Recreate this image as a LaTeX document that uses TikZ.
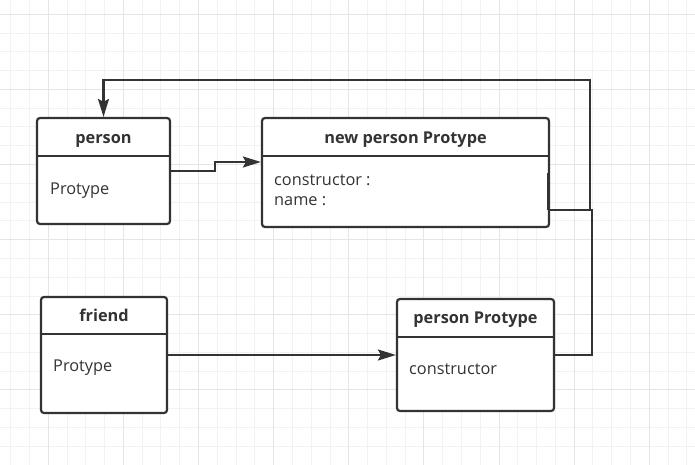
\documentclass[tikz,border=0pt]{standalone}
\usepackage{fontspec}
\setmainfont{Open Sans}
\usetikzlibrary{arrows.meta}
\definecolor{ln}{HTML}{333333}
\definecolor{gmin}{HTML}{F2F2F2}
\definecolor{gmaj}{HTML}{E5E5E5}
\tikzset{
  box/.style={draw=ln, line width=2.2pt, rounded corners=3pt, fill=white, inner sep=0pt},
  divider/.style={draw=ln, line width=2.2pt},
  hdr/.style={text=ln, font=\fontsize{16.3}{19}\selectfont\bfseries, inner sep=0pt, anchor=base},
  txt/.style={text=ln, font=\fontsize{16.3}{20}\selectfont, inner sep=0pt, anchor=base west},
  conn/.style={draw=ln, line width=2.2pt},
  arr/.style={conn, -{Stealth[length=18pt,width=11pt,inset=3pt]}},
}
\begin{document}
\begin{tikzpicture}[x=1pt,y=-1pt]
\useasboundingbox (0,0) rectangle (695,465);
\fill[white] (0,0) rectangle (695,465);
% grid
\foreach \k in {-2,...,34} {
  \pgfmathsetmacro\xx{48.3+18.78*\k}
  \draw[gmin, line width=1pt] (\xx,0) -- (\xx,465);
}
\foreach \k in {0,...,24} {
  \pgfmathsetmacro\yy{14.3+18.78*\k}
  \draw[gmin, line width=1pt] (0,\yy) -- (695,\yy);
}
\foreach \k in {0,4,...,32} {
  \pgfmathsetmacro\xx{48.3+18.78*\k}
  \draw[gmaj, line width=1pt] (\xx,0) -- (\xx,465);
}
\foreach \k in {0,4,...,24} {
  \pgfmathsetmacro\yy{14.3+18.78*\k}
  \draw[gmaj, line width=1pt] (0,\yy) -- (695,\yy);
}
% boxes
\node[box, minimum width=133pt, minimum height=106pt] (person) at (103.5,171) {};
\node[box, minimum width=287pt, minimum height=109pt] (npp) at (405.5,172.5) {};
\node[box, minimum width=126pt, minimum height=116pt] (friend) at (104,355) {};
\node[box, minimum width=157pt, minimum height=112pt] (ppt) at (475.5,355) {};
% dividers
\draw[divider] (person.west |- 0,156) -- (person.east |- 0,156);
\draw[divider] (npp.west |- 0,156) -- (npp.east |- 0,156);
\draw[divider] (friend.west |- 0,334) -- (friend.east |- 0,334);
\draw[divider] (ppt.west |- 0,337) -- (ppt.east |- 0,337);
% texts
\node[hdr] (personH) at (103.5,144) {person};
\node[txt] (personP) at (50,194.3) {Protype};
\node[hdr] (nppH) at (405.5,143.3) {new person Protype};
\node[txt] (nppC) at (274,185) {constructor :};
\node[txt] (nppN) at (274,205) {name :};
\node[hdr] (friendH) at (104,321) {friend};
\node[txt] (friendP) at (53,371.7) {Protype};
\node[hdr] (pptH) at (475.5,323.3) {person Protype};
\node[txt] (pptC) at (409,374.3) {constructor};
% connectors
\draw[arr] (person.east) -- ++(44,0) |- ([yshift=10.5pt]npp.west);
\draw[arr] (friend.east) -- (ppt.west);
\coordinate (j) at (590,210);
\draw[conn] (ppt.east) -| (592,210) -- ([yshift=-37.5pt]npp.east);
\draw[conn, line width=2.8pt] ([xshift=-1.5pt,yshift=-37.5pt]npp.east) -- ([xshift=-1.5pt,yshift=-0.5pt]npp.east);
\draw[arr] (j) -- (j |- 0,80) -| (person.north);
\end{tikzpicture}
\end{document}
